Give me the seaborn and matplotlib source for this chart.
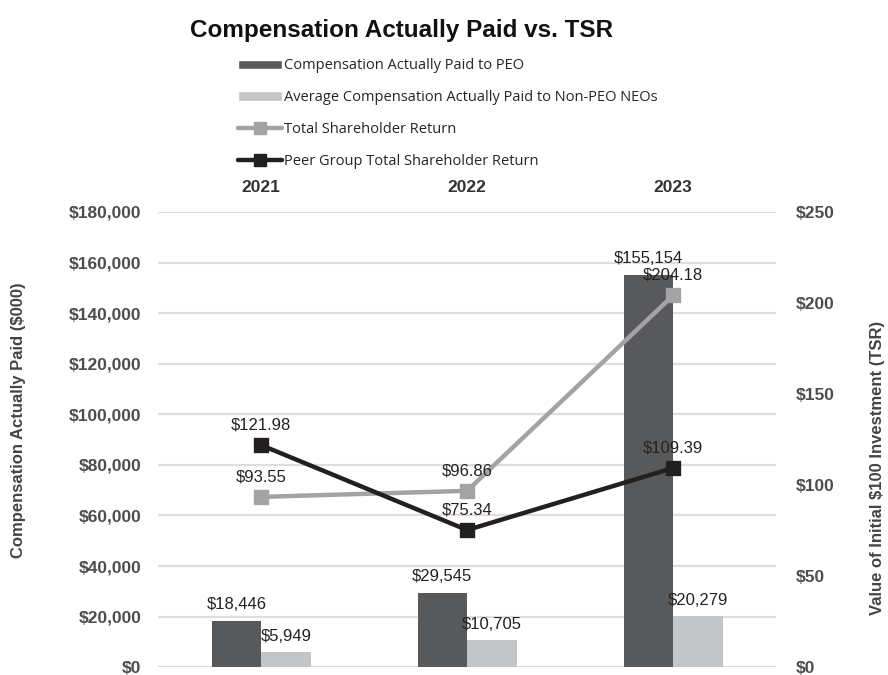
import matplotlib
matplotlib.use("Agg")
import matplotlib.pyplot as plt
from matplotlib.patches import Patch
from matplotlib.lines import Line2D
from matplotlib.ticker import FuncFormatter, MultipleLocator
import seaborn as sns
import pandas as pd

# Values by fiscal year
years = ["2021", "2022", "2023"]
peo_cap = [18446, 29545, 155154]          # $000
neo_cap = [5949, 10705, 20279]            # $000, average non-PEO NEOs
tsr = [93.55, 96.86, 204.18]              # value of initial $100
peer_tsr = [121.98, 75.34, 109.39]

series_peo = "Compensation Actually Paid to PEO"
series_neo = "Average Compensation Actually Paid to Non-PEO NEOs"
series_tsr = "Total Shareholder Return"
series_peer = "Peer Group Total Shareholder Return"

c_peo = "#58595b"
c_neo = "#c4c5c7"
c_tsr = "#a3a3a5"
c_peer = "#231f20"
c_grid = "#dedede"
c_tick = "#4d4d4d"

sns.set_theme(style="white")
plt.rcParams["font.family"] = ["Liberation Sans", "DejaVu Sans"]

bars = pd.DataFrame({
    "year": years * 2,
    "series": [series_peo] * len(years) + [series_neo] * len(years),
    "value": peo_cap + neo_cap,
})
lines = pd.DataFrame({
    "year": years * 2,
    "series": [series_tsr] * len(years) + [series_peer] * len(years),
    "value": tsr + peer_tsr,
})

fig = plt.figure(figsize=(8.88, 6.75), dpi=100)
ax = fig.add_axes([0.178, 0.0115, 0.696, 0.6745])

sns.barplot(data=bars, x="year", y="value", hue="series", order=years,
            hue_order=[series_peo, series_neo],
            palette=[c_peo, c_neo], width=0.48, saturation=1,
            linewidth=0, legend=False, ax=ax, zorder=2)

ax.set_ylim(0, 180000)
ax.yaxis.set_major_locator(MultipleLocator(20000))
ax.yaxis.set_major_formatter(FuncFormatter(lambda v, p: f"${v:,.0f}"))
ax.grid(axis="y", color=c_grid, linewidth=1.6, zorder=0)
ax.set_axisbelow(True)
for s in ax.spines.values():
    s.set_visible(False)
ax.set_xlabel("")
ax.set_ylabel("")

# value labels on the bars
for cont in ax.containers:
    ax.bar_label(cont, labels=[f"${v:,.0f}" for v in cont.datavalues],
                 padding=6, fontsize=12, color="#222222")

ax2 = ax.twinx()
sns.pointplot(data=lines, x="year", y="value", hue="series", order=years,
              hue_order=[series_tsr, series_peer],
              palette=[c_tsr, c_peer], markers="s", linestyles="-",
              markersize=8, linewidth=3.2, legend=False, ax=ax2)
ax2.set_ylim(0, 250)
ax2.yaxis.set_major_locator(MultipleLocator(50))
ax2.yaxis.set_major_formatter(FuncFormatter(lambda v, p: f"${v:,.0f}"))
ax2.grid(False)
for s in ax2.spines.values():
    s.set_visible(False)
ax2.tick_params(axis="y", length=0, pad=14, labelsize=12.5, labelcolor=c_tick)
for lbl in ax2.get_yticklabels():
    lbl.set_fontweight("bold")
ax2.set_xlabel("")
ax2.set_ylabel("")
ax2.xaxis.set_visible(False)

# year labels along the top edge
ax.set_xticks(range(len(years)), years)
ax.xaxis.tick_top()
ax.tick_params(axis="x", length=0, pad=12, labelsize=12.5, labelcolor="#333333")
ax.tick_params(axis="y", length=0, pad=12, labelsize=12.5, labelcolor=c_tick)
for lbl in ax.get_xticklabels() + ax.get_yticklabels():
    lbl.set_fontweight("bold")

for i, y in enumerate(years):
    for vals in (tsr, peer_tsr):
        ax2.annotate(f"${vals[i]:.2f}", (i, vals[i]), xytext=(0, 9),
                     textcoords="offset points", ha="center", va="bottom",
                     fontsize=12, color="#222222")

fig.text(0.452, 0.955, "Compensation Actually Paid vs. TSR", ha="center",
         va="center", fontsize=17.5, fontweight="bold", color="#111111")
fig.text(0.021, 0.378, "Compensation Actually Paid ($000)", rotation=90,
         ha="center", va="center", fontsize=12, fontweight="bold", color="#444444")
fig.text(0.988, 0.307, "Value of Initial $100 Investment (TSR)", rotation=90,
         ha="center", va="center", fontsize=12, fontweight="bold", color="#444444")

handles = [
    Patch(facecolor=c_peo, label=series_peo),
    Patch(facecolor=c_neo, label=series_neo),
    Line2D([], [], color=c_tsr, lw=3.2, marker="s", markersize=8, label=series_tsr),
    Line2D([], [], color=c_peer, lw=3.2, marker="s", markersize=8, label=series_peer),
]
fig.legend(handles=handles, loc="upper left", bbox_to_anchor=(0.262, 0.922),
           frameon=False, prop={"family": "Open Sans", "size": 10.5},
           handlelength=3.0, handleheight=0.6, handletextpad=0.1,
           labelspacing=1.15, borderaxespad=0)

fig.savefig("out.png", dpi=100)
